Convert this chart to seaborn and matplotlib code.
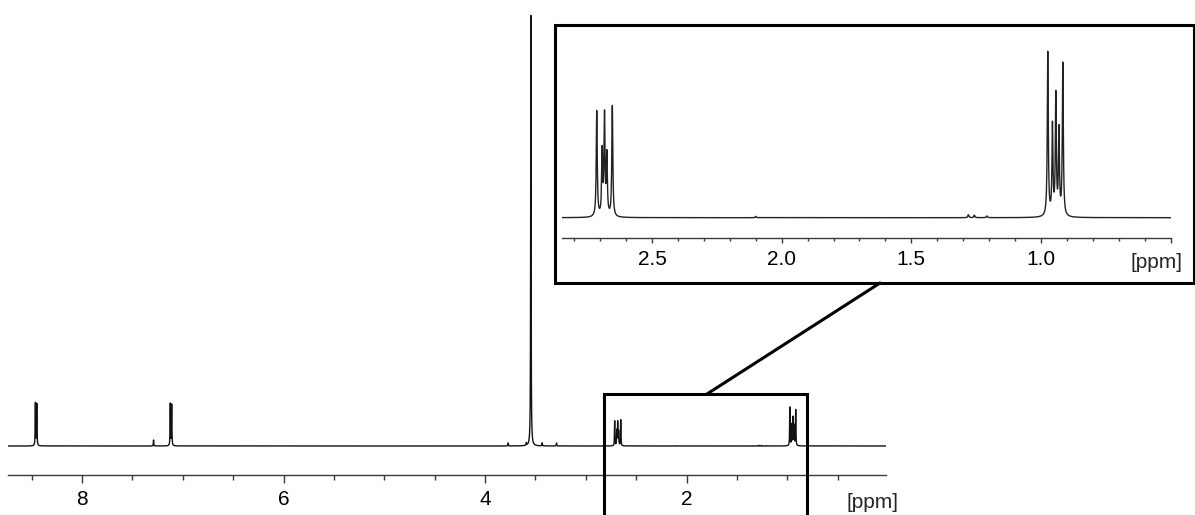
import numpy as np
import pandas as pd
import matplotlib
matplotlib.use("Agg")
import matplotlib.pyplot as plt
import seaborn as sns
from matplotlib.patches import Rectangle
from matplotlib.lines import Line2D
from matplotlib.ticker import MultipleLocator

# 1H NMR peak list (shift in ppm, height in main-plot units)
peak_ppm = [8.463, 8.449,
            7.290,
            7.124, 7.110,
            3.770, 3.590, 3.545, 3.432, 3.290,
            2.713, 2.692, 2.683, 2.674, 2.653,
            2.100,
            1.280, 1.257, 1.209,
            0.974, 0.956, 0.943, 0.931, 0.916]
peak_height = [43.0, 42.0,
               6.0,
               42.0, 41.0,
               3.0, 2.5, 434.0, 3.0, 3.0,
               25.0, 15.0, 23.5, 14.0, 26.2,
               0.3,
               0.7, 0.6, 0.4,
               38.5, 21.0, 28.4, 20.0, 35.8]
fwhm = 0.0045  # line width, ppm

main_ticks = [8, 6, 4, 2]
main_tick_labels = ["8", "6", "4", "2"]
inset_ticks = [2.5, 2.0, 1.5, 1.0, 0.5]
inset_tick_labels = ["2.5", "2.0", "1.5", "1.0", ""]
main_xlim = (8.735, 0.02)
inset_xlim = (2.847, 0.499)
zoom_box = (2.815, 0.80)
inset_scale = 4.256  # vertical expansion of the inset

W, H = 1195, 515


def fx(px):
    return px / W


def fy(py):
    return 1 - py / H


# build the spectrum from the peak list (Lorentzian lines)
ppm = np.arange(0.0, 8.75, 0.0004)
g = fwhm / 2
intensity = np.zeros_like(ppm)
for p, h in zip(peak_ppm, peak_height):
    intensity += h * g**2 / (g**2 + (ppm - p) ** 2)
spec = pd.DataFrame({"ppm": ppm, "intensity": intensity})

sns.set_theme(style="white")
plt.rcParams["font.family"] = ["Liberation Sans", "DejaVu Sans"]

fig = plt.figure(figsize=(W / 100, H / 100), dpi=100)
axis_col = "#3a3a3a"


def style_axis(ax, ticks, labels, minor, major_len, minor_len):
    for s in ["left", "right", "top"]:
        ax.spines[s].set_visible(False)
    ax.spines["bottom"].set_linewidth(1.0)
    ax.spines["bottom"].set_color(axis_col)
    ax.set_yticks([])
    ax.set_xticks(ticks, labels=labels)
    ax.xaxis.set_minor_locator(MultipleLocator(minor))
    ax.tick_params(axis="x", which="major", direction="out", length=major_len,
                   width=1.0, color=axis_col, labelsize=15, pad=5,
                   labelcolor="black", bottom=True)
    ax.tick_params(axis="x", which="minor", direction="out", length=minor_len,
                   width=1.0, color=axis_col, bottom=True)
    ax.set_xlabel("")
    ax.set_ylabel("")
    ax.grid(False)


# --- main spectrum ---
ax = fig.add_axes([fx(8), fy(475), fx(886) - fx(8), fy(0) - fy(475)])
sns.lineplot(data=spec, x="ppm", y="intensity", ax=ax, color="#111111",
             linewidth=1.0, estimator=None, sort=False)
ax.set_xlim(*main_xlim)
ax.set_ylim(-29, 446)
style_axis(ax, main_ticks, main_tick_labels, 0.5, 5.8, 3.6)

# box marking the expanded region
ax.add_patch(Rectangle((zoom_box[1], -120), zoom_box[0] - zoom_box[1], 172,
                       fill=False, edgecolor="black", linewidth=2.2,
                       clip_on=False, zorder=5))

# --- inset (expanded 2.8 - 0.5 ppm) ---
ax2 = fig.add_axes([fx(562), fy(238), fx(1171) - fx(562), fy(30) - fy(238)])
sns.lineplot(data=spec, x="ppm", y="intensity", ax=ax2, color="#222222",
             linewidth=1.0, estimator=None, sort=False)
ax2.set_xlim(*inset_xlim)
ax2.set_ylim(-20.3 / inset_scale, (238 - 30 - 20.3) / inset_scale)
style_axis(ax2, inset_ticks, inset_tick_labels, 0.1, 3.6, 2.4)

# inset frame and connector
fig.add_artist(Rectangle((fx(555), fy(283)), fx(1194) - fx(555), fy(25) - fy(283),
                         transform=fig.transFigure, fill=False,
                         edgecolor="black", linewidth=2.2, zorder=3))
fig.add_artist(Line2D([fx(707), fx(880)], [fy(394), fy(283)],
                      transform=fig.transFigure, color="black", linewidth=2.2,
                      zorder=3))

fig.text(fx(872), fy(502), "[ppm]", ha="center", va="center", fontsize=15)
fig.text(fx(1157), fy(263), "[ppm]", ha="center", va="center", fontsize=15)

fig.savefig("out.png", dpi=100, facecolor="white")
